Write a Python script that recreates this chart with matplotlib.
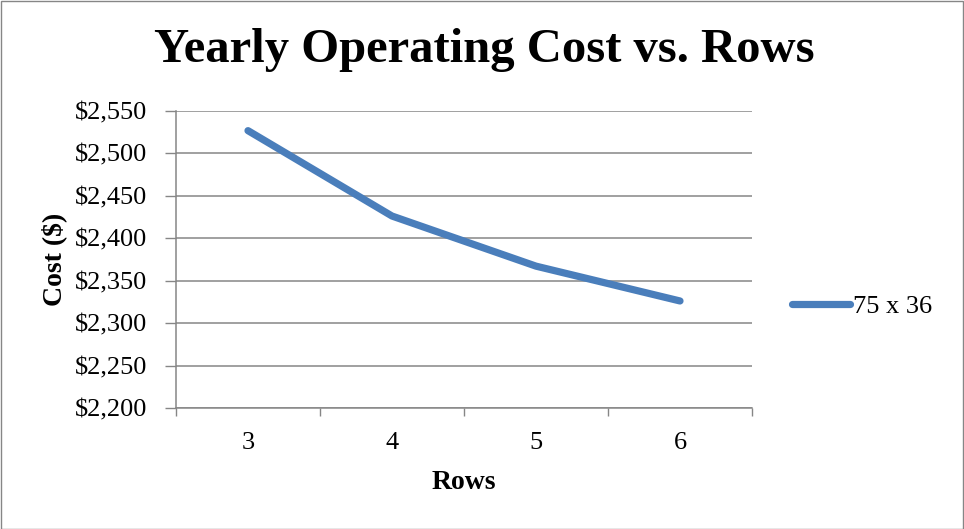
import matplotlib
matplotlib.use("Agg")
import matplotlib.pyplot as plt
from matplotlib.patches import Rectangle
from matplotlib.ticker import FuncFormatter, FixedLocator

rows = ["3", "4", "5", "6"]
cost = [2526.5, 2426, 2367, 2326]
series_name = "75 x 36"
y_ticks = [2200, 2250, 2300, 2350, 2400, 2450, 2500, 2550]

W, H = 964, 529
fig = plt.figure(figsize=(W / 100, H / 100), dpi=100)
plt.rcParams['font.family'] = ['Liberation Serif', 'DejaVu Serif']

ax = fig.add_axes([176 / W, 1 - 408 / H, (752 - 176) / W, (408 - 110.7) / H])
x = list(range(len(rows)))
ax.plot(x, cost, color="#4A7EBB", lw=5.2, solid_capstyle="round", solid_joinstyle="round", label=series_name)

ax.set_xlim(-0.5, len(rows) - 0.5)
ax.set_ylim(y_ticks[0], y_ticks[-1])
ax.set_yticks(y_ticks)
ax.yaxis.set_major_formatter(FuncFormatter(lambda v, p: f"${v:,.0f}"))
ax.set_xticks(x)
ax.set_xticklabels(rows)
ax.xaxis.set_minor_locator(FixedLocator([i - 0.5 for i in range(len(rows) + 1)]))
ax.tick_params(axis="x", which="major", length=0, labelsize=19, pad=17)
ax.tick_params(axis="x", which="minor", length=6, width=1, color="#868686", direction="out")
ax.tick_params(axis="y", length=8, width=1, color="#868686", labelsize=19, pad=13)
ax.grid(axis="y", color="#868686", lw=1.1)
ax.set_axisbelow(True)
for s in ["top", "right"]:
    ax.spines[s].set_visible(False)
for s in ["left", "bottom"]:
    ax.spines[s].set_color("#868686")
    ax.spines[s].set_linewidth(1.1)

ax.set_ylabel("Cost ($)", fontsize=20, fontweight="bold", labelpad=5)
ax.set_xlabel("Rows", fontsize=20, fontweight="bold", labelpad=12)

fig.text(484 / W, 1 - 50 / H, "Yearly Operating Cost vs. Rows", ha="center", va="center",
         fontsize=35, fontweight="bold")

leg = ax.legend(loc="center left", bbox_to_anchor=(779 / W, 1 - 306 / H), bbox_transform=fig.transFigure,
                frameon=False, fontsize=19, handlelength=2.2, handletextpad=0.12, borderpad=0)

fig.patches.append(Rectangle((0.5 / W, 0.5 / H), 1 - 1.5 / W, 1 - 1.5 / H, transform=fig.transFigure,
                             fill=False, edgecolor="#868686", lw=1))

fig.savefig("out.png", dpi=100)
